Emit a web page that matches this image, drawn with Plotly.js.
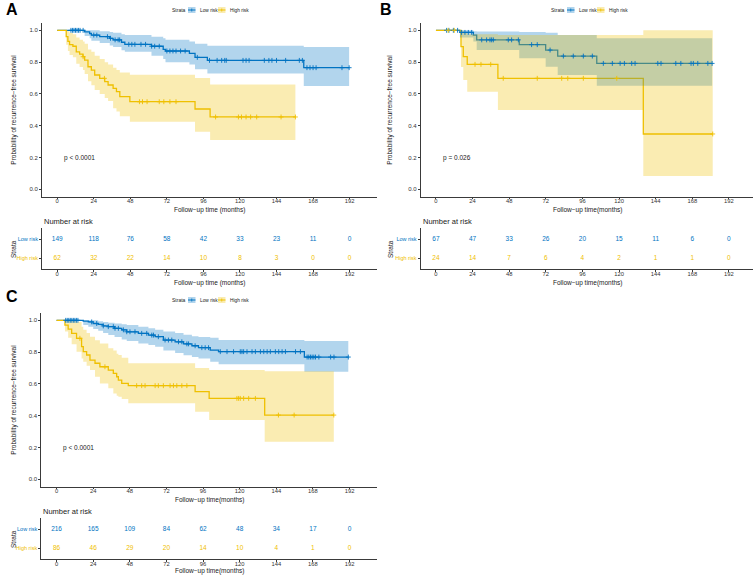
<!DOCTYPE html>
<html><head><meta charset="utf-8">
<script src="https://cdn.plot.ly/plotly-3.0.1.min.js"></script>
<style>html,body{margin:0;padding:0;background:#fff}#plot{width:753px;height:575px}</style>
</head><body><div id="plot"></div>
<script>
// ---------------- DATA ----------------
const timeTicks = [0, 24, 48, 72, 96, 120, 144, 168, 192];
const strata = ['Low risk', 'High risk'];

// Panel A
const A_low_t = [0, 18, 21.3, 22.4, 27.9, 34.5, 36.7, 42.2, 44.4, 61.9, 69.6, 71.1, 86.8, 90.5, 98.6, 161.9];
const A_low_s = [1, .99, .98, .97, .96, .95, .94, .925, .912, .90, .88, .87, .855, .83, .811, .765];
const A_low_u = [1, 1, 1, 1, .995, .99, .985, .975, .97, .96, .95, .94, .93, .915, .903, .895];
const A_low_l = [1, .965, .95, .935, .92, .905, .895, .875, .865, .84, .82, .80, .785, .755, .728, .65];
const A_low_end = 191.7;
const A_low_cens = [9,10,11,12,13,14,15,17,24,26,33,35,38,40,41,47,49,51,55,58,62,64,67,72,74,76,78,81,84,92,100,105,108,110,111,122,124,126,136,139,141,144,150,159,161,164,166,168,170,187,191.7];
const A_high_t = [0, 5.9, 7, 8.1, 10.3, 12.5, 14.7, 16.9, 18, 20.2, 22.4, 24.6, 27.9, 31.2, 33.4, 36.7, 38.9, 41.1, 47.7, 90.5, 100.4];
const A_high_s = [1, .96, .93, .91, .90, .865, .85, .834, .813, .771, .75, .719, .698, .677, .656, .635, .614, .583, .551, .505, .455];
const A_high_u = [1, 1, .995, .985, .975, .955, .94, .93, .915, .88, .865, .84, .82, .80, .785, .765, .75, .735, .72, .70, .66];
const A_high_l = [1, .91, .87, .845, .83, .79, .77, .75, .725, .68, .655, .625, .60, .575, .555, .51, .49, .46, .425, .362, .31];
const A_high_end = 156.4;
const A_high_cens = [17, 31, 54, 56, 59, 67, 70, 74, 78, 104, 119, 121, 124, 127, 131, 147, 156.4];
const A_risk_low = [149, 118, 76, 58, 42, 33, 23, 11, 0];
const A_risk_high = [62, 32, 22, 14, 10, 8, 3, 0, 0];
const A_pval = 'p < 0.0001';

// Panel B
const B_low_t = [0, 15.7, 24.5, 26.7, 54.6, 71.9, 79.8, 105.4];
const B_low_s = [1, .987, .97, .94, .91, .876, .838, .792];
const B_low_u = [1, 1, .995, .993, .99, .985, .97, .95];
const B_low_l = [1, .955, .93, .876, .824, .771, .719, .652];
const B_low_end = 181;
const B_low_cens = [7,8.5,11.4,14.2,16.8,19,21.2,23.4,30,33.2,35.4,36.5,37.6,47.4,49.6,54,62.7,66.4,74.8,83.5,90,96.6,102.5,109.7,115.6,120.7,123.5,128.3,130.5,145.4,147.5,157.2,160.5,167.2,168.7,171.6,178.2,181];
const B_high_t = [0, 16.4, 17.9, 20.5, 40.6, 135.9];
const B_high_s = [1, .897, .834, .786, .698, .348];
const B_high_u = [1, 1, .985, .975, .97, 1.0];
const B_high_l = [1, .77, .687, .614, .499, .084];
const B_high_end = 181.4;
const B_high_cens = [8, 12, 25.6, 29.5, 35.9, 44.1, 66.4, 82.4, 86.4, 96.6, 118.5, 181.4];
const B_risk_low = [67, 47, 33, 26, 20, 15, 11, 6, 0];
const B_risk_high = [24, 14, 7, 6, 4, 2, 1, 1, 0];
const B_pval = 'p = 0.026';

// Panel C
const C_low_t = [0, 17.5, 20.8, 24, 27.3, 30.5, 33.9, 38, 42.7, 46, 53.6, 60.2, 64.6, 70, 77.7, 83.2, 88.7, 93, 100.7, 106.2, 162.4];
const C_low_s = [1, .995, .99, .98, .975, .965, .96, .95, .94, .928, .918, .907, .897, .876, .865, .852, .84, .828, .813, .803, .769];
const C_low_u = [1, 1, 1, 1, .995, .99, .985, .98, .975, .97, .96, .95, .94, .93, .92, .91, .90, .895, .89, .876, .87];
const C_low_l = [1, .97, .96, .945, .935, .92, .907, .895, .88, .87, .855, .845, .834, .81, .795, .78, .77, .76, .74, .723, .677];
const C_low_end = 191.2;
const C_low_cens = [6,7,8,9,10,11,12,13,14,23,26.3,30.6,33.9,37.2,38.3,40.5,43.8,46,48.1,51.4,55.8,59.1,62.4,63.5,66.7,71.1,73.3,75.5,79.9,82.1,85.4,86.5,90.8,95.2,97.4,99.6,107.3,111.7,116,120.4,121.5,122.6,124.8,128.1,130.3,133.6,135.8,138,140.1,143.4,145.6,147.8,150,156.6,159.8,164.2,165.3,166.4,167.5,168.6,169.7,171.9,179.6,181.8,191.2];
const C_high_t = [0, 5.5, 7.6, 9.9, 13.1, 16.4, 17.5, 19.7, 21.9, 25.2, 28.4, 33.9, 37.2, 39.4, 40.5, 42.7, 47, 90.8, 100, 136.4];
const C_high_s = [1, .97, .945, .918, .887, .834, .803, .782, .75, .73, .708, .687, .666, .645, .624, .603, .589, .551, .509, .404];
const C_high_u = [1, 1, 1, 1, .99, .96, .94, .92, .897, .875, .855, .824, .81, .79, .782, .765, .73, .70, .687, .68];
const C_high_l = [1, .93, .89, .85, .803, .76, .74, .715, .687, .645, .603, .572, .54, .525, .52, .505, .478, .425, .373, .236];
const C_high_end = 181.7;
const C_high_cens = [15.3, 31.7, 52.5, 55.8, 58, 64.6, 66.7, 70, 74.4, 76.6, 78.8, 82.1, 85.4, 118.2, 119.3, 120.4, 122.6, 125.9, 130.3, 145.4, 155.7, 181.7];
const C_risk_low = [216, 165, 109, 84, 62, 48, 34, 17, 0];
const C_risk_high = [86, 46, 29, 20, 14, 10, 4, 1, 0];
const C_pval = 'p < 0.0001';

// ---------------- STYLE / LAYOUT ----------------
const W = 753, H = 575;
const FONT = 'Liberation Sans, Arial, sans-serif';
const BLUE = '#0073C2', YEL = '#EFC000';
const BLUE_F = 'rgba(0,115,194,0.3)', YEL_F = 'rgba(239,192,0,0.3)';
const AXC = '#3a3a3a';
const fx = p => p / W;
const fy = p => 1 - p / H;

const traces = [];
const layout = {
  width: W, height: H, margin: {l: 0, r: 0, t: 0, b: 0},
  paper_bgcolor: '#fff', plot_bgcolor: '#fff', showlegend: false,
  font: {family: FONT}, annotations: [], shapes: []
};

function survAt(t, s, x) { let v = s[0]; for (let i = 0; i < t.length; i++) if (t[i] <= x) v = s[i]; return v; }
function ext(arr, end) { return arr.concat([end]); }
function extv(arr) { return arr.concat([arr[arr.length - 1]]); }

function ann(text, px, py, size, extra) {
  return Object.assign({text: text, x: fx(px), y: fy(py), xref: 'paper', yref: 'paper', showarrow: false,
    font: {size: size, family: FONT, color: '#1a1a1a'}, xanchor: 'center', yanchor: 'middle'}, extra || {});
}

function xAxis(d0, d1, r0, r1, anchor) {
  return {domain: [fx(d0), fx(d1)], range: [r0, r1], anchor: anchor, tickmode: 'array', tickvals: timeTicks,
    ticktext: timeTicks.map(String), showline: true, linecolor: AXC, linewidth: 1, ticks: 'outside', ticklen: 1.5,
    tickwidth: 1, tickcolor: AXC, tickfont: {size: 5.8, color: '#333', family: FONT}, ticklabelstandoff: -3,
    showgrid: false, zeroline: false, fixedrange: true};
}
function yAxisCurve(top, bot, anchor) {
  return {domain: [fy(bot), fy(top)], range: [-0.0465, 1.048], anchor: anchor, tickmode: 'array',
    tickvals: [0, 0.2, 0.4, 0.6, 0.8, 1.0], ticktext: ['0.0', '0.2', '0.4', '0.6', '0.8', '1.0'],
    showline: true, linecolor: AXC, linewidth: 1, ticks: 'outside', ticklen: 2, tickwidth: 1, tickcolor: AXC,
    tickfont: {size: 6, color: '#333', family: FONT}, showgrid: false, zeroline: false, fixedrange: true};
}
function yAxisTable(top, bot, anchor) {
  return {domain: [fy(bot), fy(top)], range: [0.42, 2.595], anchor: anchor, tickmode: 'array',
    tickvals: [2, 1], ticktext: ['<span style="color:' + BLUE + '">' + strata[0] + '</span>', '<span style="color:' + YEL + '">' + strata[1] + '</span>'],
    showline: true, linecolor: AXC, linewidth: 1, ticks: 'outside', ticklen: 2, tickwidth: 1, tickcolor: AXC,
    tickfont: {size: 5.5, family: FONT}, showgrid: false, zeroline: false, fixedrange: true};
}

function addPanel(p) {
  const gs = [p.low, p.high], cols = [BLUE, YEL], fills = [BLUE_F, YEL_F];
  gs.forEach((g, i) => traces.push({x: ext(g.t, g.end), y: extv(g.s), mode: 'lines',
    line: {shape: 'hv', color: cols[i], width: 1.3}, xaxis: p.xa, yaxis: p.ya, hoverinfo: 'skip'}));
  gs.forEach((g, i) => {
    traces.push({x: ext(g.t, g.end), y: extv(g.l), mode: 'lines', line: {shape: 'hv', width: 0, color: 'rgba(0,0,0,0)'},
      xaxis: p.xa, yaxis: p.ya, hoverinfo: 'skip'});
    traces.push({x: ext(g.t, g.end), y: extv(g.u), mode: 'lines', line: {shape: 'hv', width: 0, color: 'rgba(0,0,0,0)'},
      fill: 'tonexty', fillcolor: fills[i], xaxis: p.xa, yaxis: p.ya, hoverinfo: 'skip'});
  });
  gs.forEach((g, i) => traces.push({x: g.cens, y: g.cens.map(c => survAt(g.t, g.s, c)), mode: 'markers',
    marker: {symbol: 'cross-thin', size: 3.5, color: cols[i], line: {width: 0.9, color: cols[i]}},
    xaxis: p.xa, yaxis: p.ya, hoverinfo: 'skip'}));
  traces.push({x: timeTicks, y: timeTicks.map(() => 2), mode: 'text', text: p.riskLow.map(String),
    textfont: {size: 6.5, color: BLUE, family: FONT}, xaxis: p.xt, yaxis: p.yt, hoverinfo: 'skip'});
  traces.push({x: timeTicks, y: timeTicks.map(() => 1), mode: 'text', text: p.riskHigh.map(String),
    textfont: {size: 6.5, color: YEL, family: FONT}, xaxis: p.xt, yaxis: p.yt, hoverinfo: 'skip'});
  layout.annotations.push({text: p.pval, x: 3, y: 0.2, xref: p.xa, yref: p.ya, xanchor: 'left', yanchor: 'middle',
    showarrow: false, font: {size: 6.5, family: FONT, color: '#1a1a1a'}});
}

function legend(bx, by) {
  layout.annotations.push(ann('Strata', bx + 6, by, 5));
  const sw = [[bx + 15.3, BLUE, BLUE_F, strata[0], bx + 25], [bx + 45.3, YEL, YEL_F, strata[1], bx + 55]];
  sw.forEach(([x0, c, f, lab, lx]) => {
    layout.shapes.push({type: 'rect', xref: 'paper', yref: 'paper', x0: fx(x0), x1: fx(x0 + 7.5), y0: fy(by + 3), y1: fy(by - 3),
      fillcolor: f, line: {width: 0}});
    layout.shapes.push({type: 'line', xref: 'paper', yref: 'paper', x0: fx(x0), x1: fx(x0 + 7.5), y0: fy(by), y1: fy(by),
      line: {color: c, width: 1}});
    layout.shapes.push({type: 'line', xref: 'paper', yref: 'paper', x0: fx(x0 + 3.75), x1: fx(x0 + 3.75), y0: fy(by - 1.5), y1: fy(by + 1.5),
      line: {color: c, width: 0.8}});
    layout.annotations.push(ann(lab, lx, by, 4.8, {xanchor: 'left'}));
  });
}

// Panel A axes
layout.xaxis = xAxis(42, 377, -10, 210, 'y');
layout.yaxis = yAxisCurve(22.7, 196.7, 'x');
layout.xaxis2 = xAxis(42, 377, -10, 210, 'y2');
layout.yaxis2 = yAxisTable(228, 269.3, 'x2');
// Panel B axes
layout.xaxis3 = xAxis(420.7, 753, -10, 207.8, 'y3');
layout.yaxis3 = yAxisCurve(22.7, 196.7, 'x3');
layout.xaxis4 = xAxis(420.7, 753, -10, 207.8, 'y4');
layout.yaxis4 = yAxisTable(228, 269.3, 'x4');
// Panel C axes
layout.xaxis5 = xAxis(41.3, 377, -10, 210, 'y5');
layout.yaxis5 = yAxisCurve(312.7, 486.7, 'x5');
layout.xaxis6 = xAxis(41.3, 377, -10, 210, 'y6');
layout.yaxis6 = yAxisTable(518, 559.3, 'x6');

addPanel({xa: 'x', ya: 'y', xt: 'x2', yt: 'y2', pval: A_pval, riskLow: A_risk_low, riskHigh: A_risk_high,
  low: {t: A_low_t, s: A_low_s, u: A_low_u, l: A_low_l, end: A_low_end, cens: A_low_cens},
  high: {t: A_high_t, s: A_high_s, u: A_high_u, l: A_high_l, end: A_high_end, cens: A_high_cens}});
addPanel({xa: 'x3', ya: 'y3', xt: 'x4', yt: 'y4', pval: B_pval, riskLow: B_risk_low, riskHigh: B_risk_high,
  low: {t: B_low_t, s: B_low_s, u: B_low_u, l: B_low_l, end: B_low_end, cens: B_low_cens},
  high: {t: B_high_t, s: B_high_s, u: B_high_u, l: B_high_l, end: B_high_end, cens: B_high_cens}});
addPanel({xa: 'x5', ya: 'y5', xt: 'x6', yt: 'y6', pval: C_pval, riskLow: C_risk_low, riskHigh: C_risk_high,
  low: {t: C_low_t, s: C_low_s, u: C_low_u, l: C_low_l, end: C_low_end, cens: C_low_cens},
  high: {t: C_high_t, s: C_high_s, u: C_high_u, l: C_high_l, end: C_high_end, cens: C_high_cens}});

// Titles, labels
const YT = 'Probability of recurrence\u2212free survival';
const XT1 = 'Follow\u2212up time (months)';
const XT2 = 'Follow\u2212up time(months)';
const A_ = layout.annotations;
A_.push(ann('<b>A</b>', 11.5, 9, 16, {font: {size: 16, family: FONT, color: '#000'}}));
A_.push(ann('<b>B</b>', 386, 9, 16, {font: {size: 16, family: FONT, color: '#000'}}));
A_.push(ann('<b>C</b>', 11.5, 296, 16, {font: {size: 16, family: FONT, color: '#000'}}));
A_.push(ann(YT, 14, 109.7, 6.5, {textangle: -90}));
A_.push(ann(YT, 390, 109.7, 6.5, {textangle: -90}));
A_.push(ann(YT, 14, 399.7, 6.5, {textangle: -90}));
A_.push(ann(XT1, 209.7, 209.8, 6.5));
A_.push(ann(XT2, 588, 209.8, 6.5));
A_.push(ann(XT2, 209.7, 499.8, 6.5));
A_.push(ann(XT1, 209.7, 282.6, 6.5));
A_.push(ann(XT2, 588, 282.6, 6.5));
A_.push(ann(XT2, 209.7, 570.6, 6.5));
A_.push(ann('Number at risk', 42, 221.7, 7.5, {xanchor: 'left'}));
A_.push(ann('Number at risk', 420.7, 221.7, 7.5, {xanchor: 'left'}));
A_.push(ann('Number at risk', 41.3, 511.7, 7.5, {xanchor: 'left'}));
A_.push(ann('Strata', 13, 249, 6.5, {textangle: -90}));
A_.push(ann('Strata', 390, 249, 6.5, {textangle: -90}));
A_.push(ann('Strata', 13, 539, 6.5, {textangle: -90}));
legend(172.7, 10);
legend(551.7, 10);
legend(172.7, 300);

Plotly.newPlot('plot', traces, layout, {displayModeBar: false, staticPlot: true});
</script>
</body></html>
